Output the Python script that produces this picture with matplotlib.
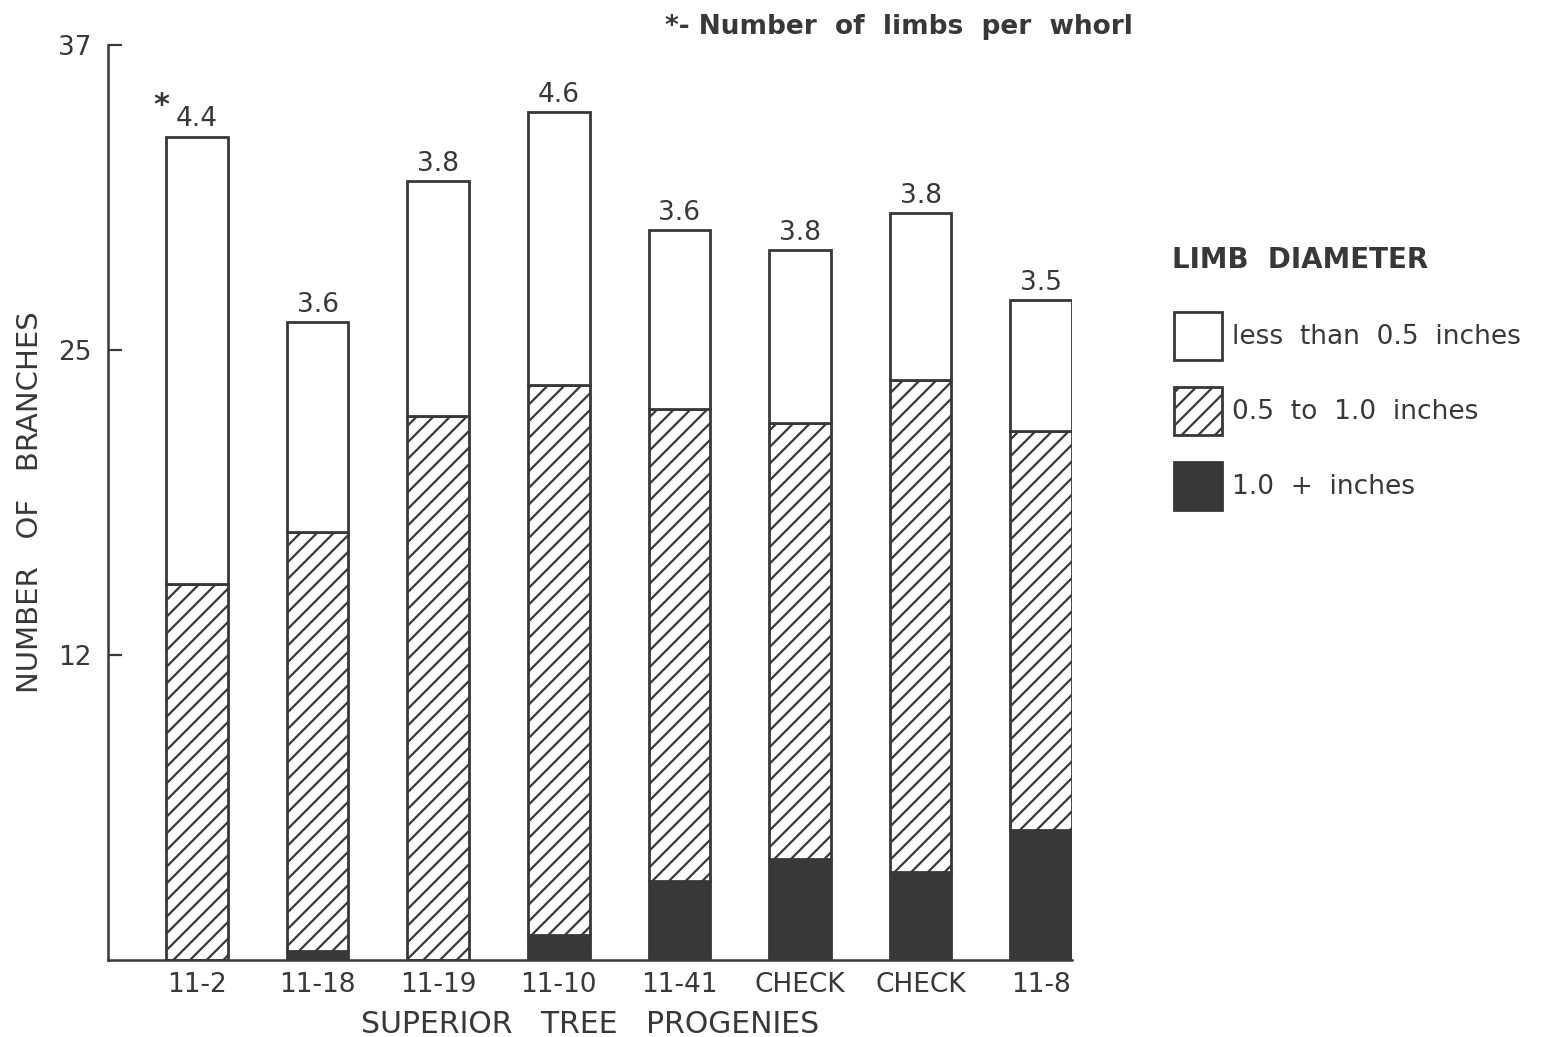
import matplotlib
matplotlib.use("Agg")

import matplotlib.pyplot as plt
from matplotlib.patches import Patch

# values (number of branches per segment)
progenies = ["11-2", "11-18", "11-19", "11-10", "11-41", "CHECK", "CHECK", "11-8"]
large_limbs = [0.0, 0.35, 0.0, 1.0, 3.2, 4.1, 3.55, 5.25]
medium_limbs = [15.2, 16.95, 22.0, 22.25, 19.1, 17.6, 19.9, 16.15]
small_limbs = [18.1, 8.5, 9.5, 11.05, 7.2, 7.0, 6.75, 5.3]
limbs_per_whorl = [4.4, 3.6, 3.8, 4.6, 3.6, 3.8, 3.8, 3.5]

y_ticks = [37 / 3, 74 / 3, 37]
y_tick_labels = ["12", "25", "37"]

ink = "#383838"
plt.rcParams["font.family"] = ["DejaVu Sans"]
plt.rcParams["hatch.linewidth"] = 1.6
plt.rcParams["hatch.color"] = ink

fig = plt.figure(figsize=(15.41, 10.37), dpi=100)
ax = fig.add_axes([0.0701, 0.0743, 0.6256, 0.8823])

x = list(range(len(progenies)))
width = 0.51
edge = dict(edgecolor=ink, linewidth=2.0)

ax.bar(x, large_limbs, width, color=ink, **edge)
bottom2 = large_limbs
ax.bar(x, medium_limbs, width, bottom=bottom2, facecolor="white", hatch="//", **edge)
bottom3 = [a + b for a, b in zip(large_limbs, medium_limbs)]
ax.bar(x, small_limbs, width, bottom=bottom3, facecolor="white", **edge)

tops = [a + b for a, b in zip(bottom3, small_limbs)]
for xi, top, w in zip(x, tops, limbs_per_whorl):
    ax.annotate(f"{w:.1f}", (xi, top), xytext=(0, 3), textcoords="offset points",
                ha="center", va="bottom", fontsize=19, color=ink)
ax.annotate("*", (x[0], tops[0]), xytext=(-26, 12), textcoords="offset points",
            ha="center", va="bottom", fontsize=22, color=ink, fontweight="bold")

ax.set_xlim(-0.738, 7.257)
ax.set_ylim(0, 37)
ax.set_xticks(x)
ax.set_xticklabels(progenies)
ax.set_yticks(y_ticks)
ax.set_yticklabels(y_tick_labels)
ax.tick_params(axis="x", length=0, pad=9, labelsize=19, labelcolor=ink)
ax.tick_params(axis="y", direction="in", length=10, width=1.6, color=ink,
               pad=12, labelsize=19, labelcolor=ink)

for side in ["top", "right"]:
    ax.spines[side].set_visible(False)
for side in ["left", "bottom"]:
    ax.spines[side].set_linewidth(1.8)
    ax.spines[side].set_color(ink)

ax.set_xlabel("SUPERIOR   TREE   PROGENIES", fontsize=21.5, color=ink, labelpad=8)
ax.set_ylabel("NUMBER   OF   BRANCHES", fontsize=21, color=ink, labelpad=10)

fig.text(665 / 1541, 1 - 27 / 1037, "*- Number  of  limbs  per  whorl",
         fontsize=19, fontweight="bold", color=ink, ha="left", va="center")

# legend: title as its own text, entries through fig.legend
fig.text(1172 / 1541, 1 - 260 / 1037, "LIMB  DIAMETER", fontsize=20,
         fontweight="bold", color=ink, ha="left", va="center")
handles = [
    Patch(facecolor="white", edgecolor=ink, linewidth=2.0, label="less  than  0.5  inches"),
    Patch(facecolor="white", edgecolor=ink, linewidth=2.0, hatch="//", label="0.5  to  1.0  inches"),
    Patch(facecolor=ink, edgecolor=ink, linewidth=2.0, label="1.0  +  inches"),
]
fig.legend(handles=handles, loc="upper left",
           bbox_to_anchor=(1150 / 1541, 1 - 288 / 1037), frameon=False,
           fontsize=19, handlelength=1.82, handleheight=2.45, handletextpad=0.4,
           labelspacing=1.0, labelcolor=ink)

fig.savefig("out.png", dpi=100, facecolor="white")
